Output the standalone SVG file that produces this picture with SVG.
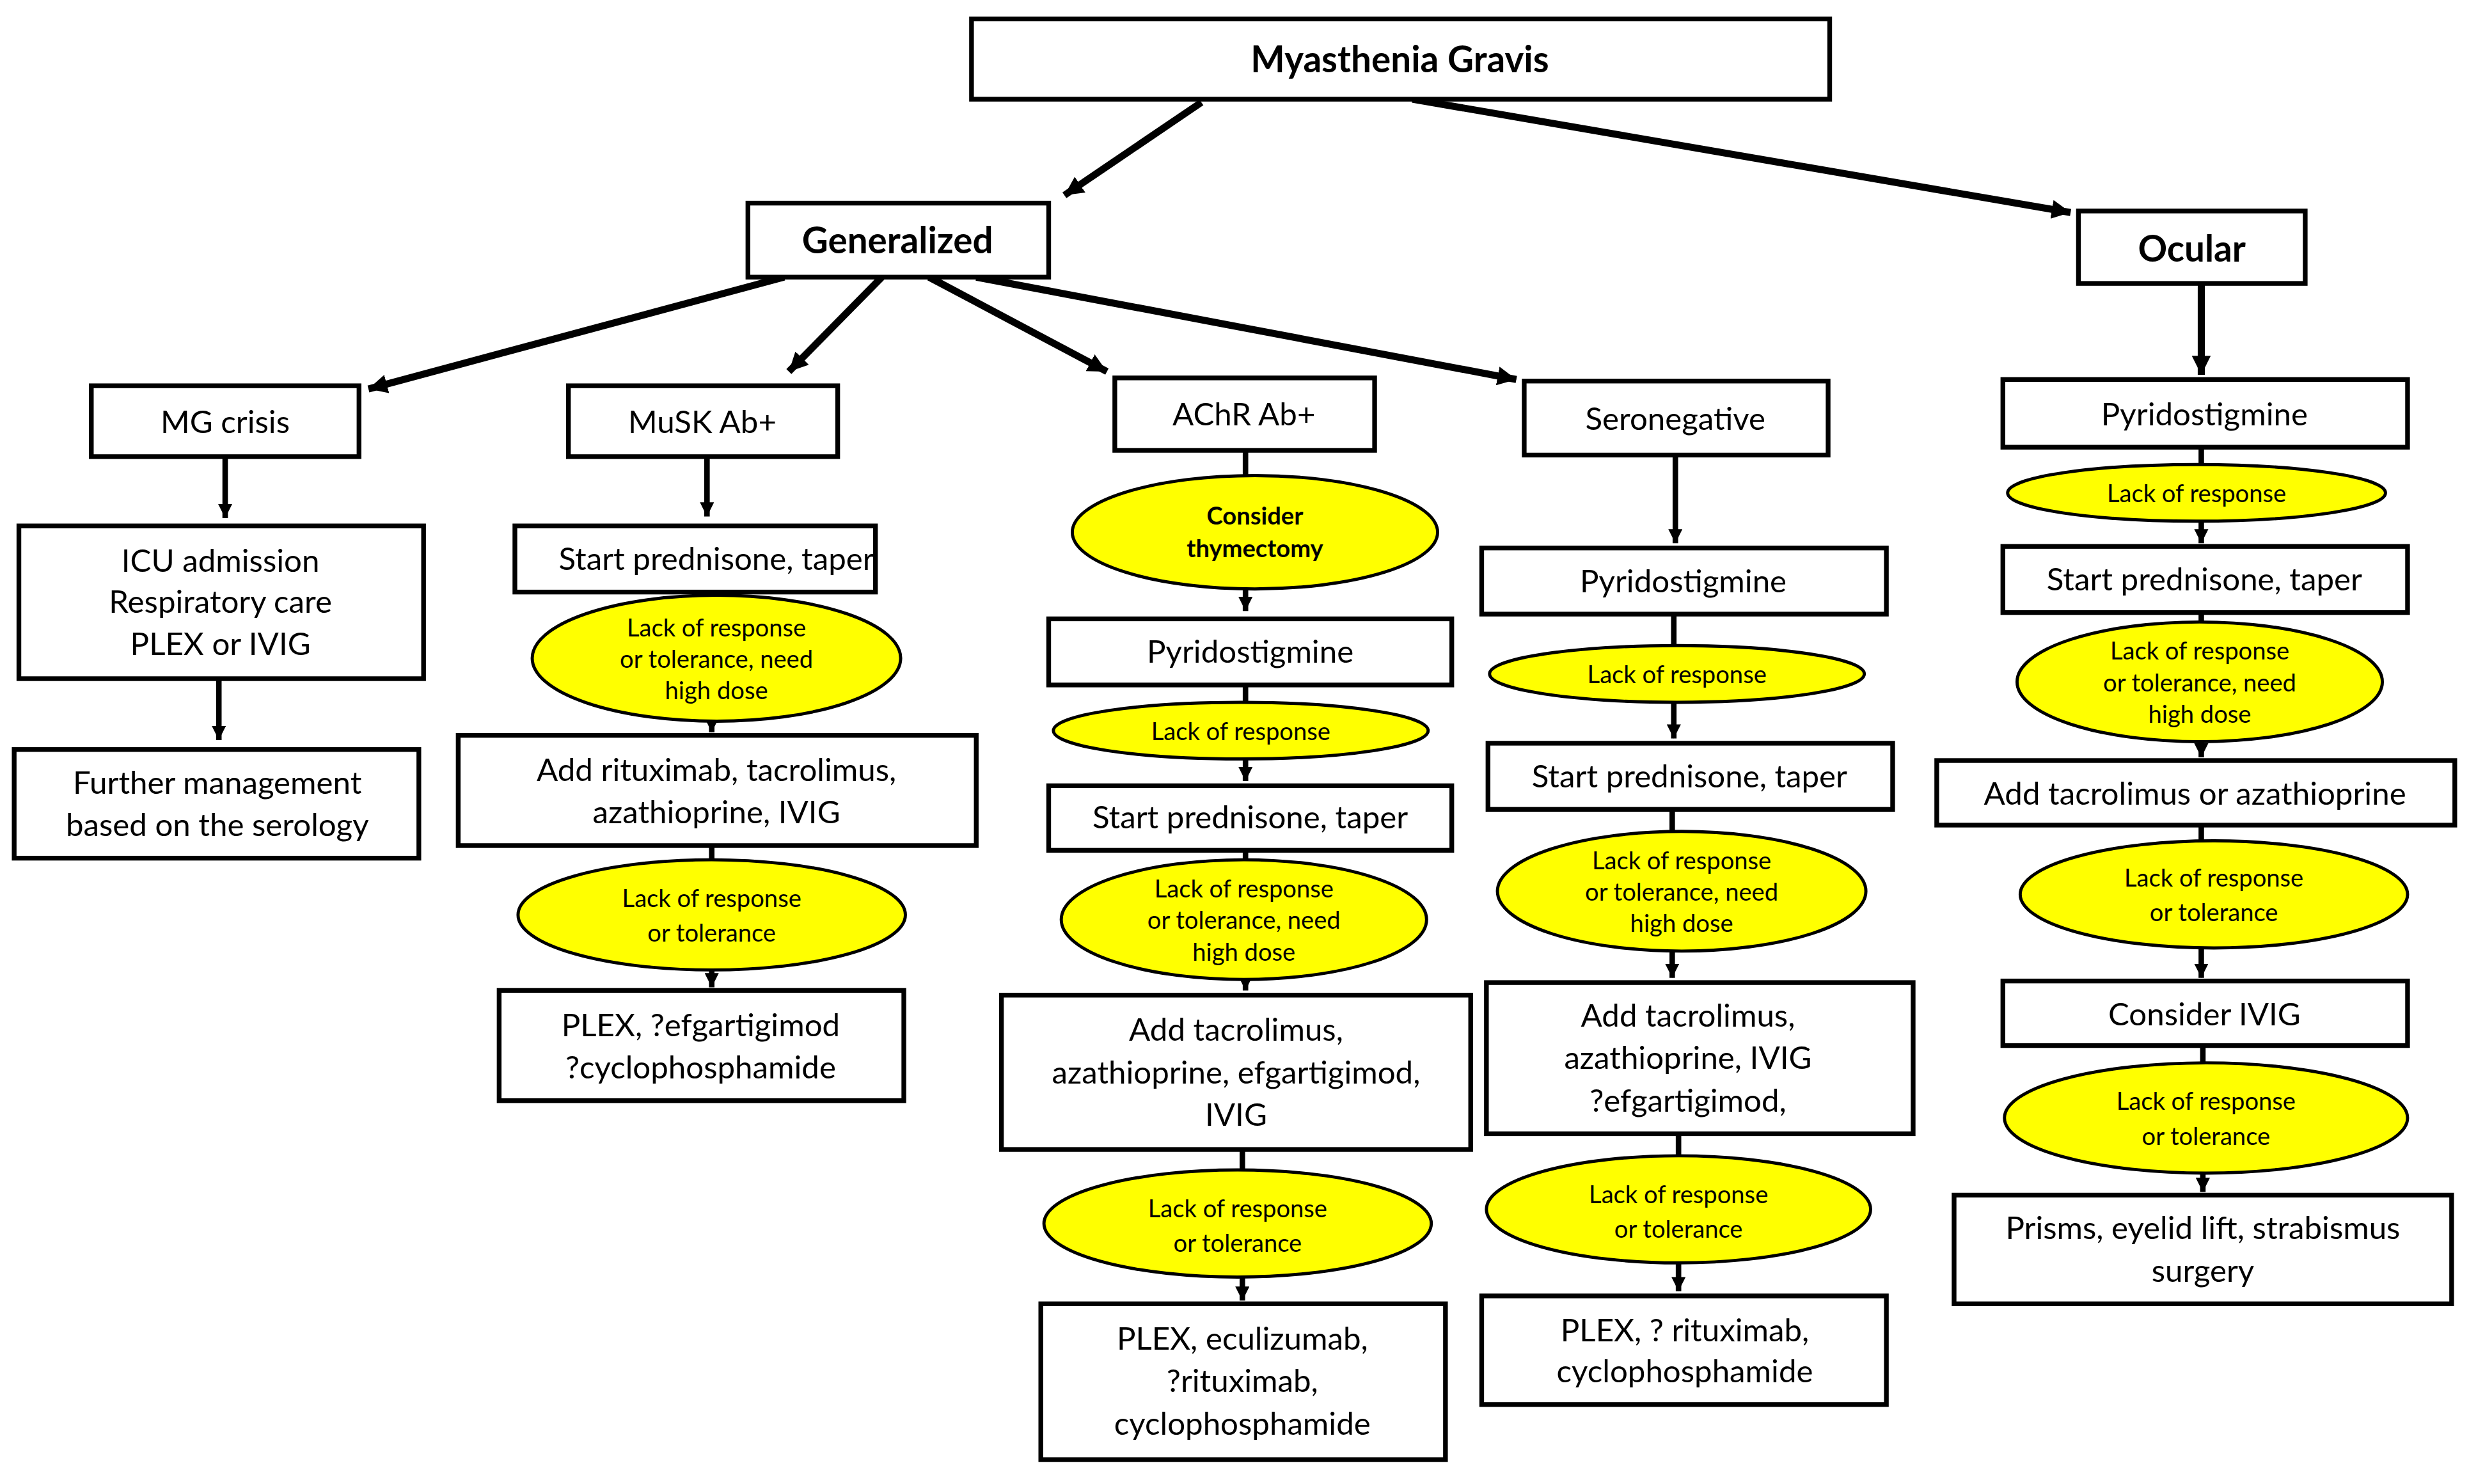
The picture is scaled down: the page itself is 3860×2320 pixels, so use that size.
<svg xmlns="http://www.w3.org/2000/svg" width="3860" height="2320" viewBox="0 0 3860 2320">
<defs>
<marker id="ah" markerUnits="userSpaceOnUse" markerWidth="12" markerHeight="12" refX="10" refY="5" orient="auto" viewBox="0 0 10 10"><path d="M0,0 L10,5 L0,10 Z" fill="#000"/></marker>
<marker id="ahs" markerUnits="userSpaceOnUse" markerWidth="9" markerHeight="9" refX="10" refY="5" orient="auto" viewBox="0 0 10 10"><path d="M0,0 L10,5 L0,10 Z" fill="#000"/></marker>
</defs>
<style>
.b{fill:#fff;stroke:#000;stroke-width:3}
.e{fill:#ffff00;stroke:#000;stroke-width:2}
text{font-family:Lato,"Liberation Sans",sans-serif;fill:#000;text-anchor:middle}
.t{font-size:20px}
.h{font-size:23px;font-weight:bold}
.s{font-size:15.5px}
.thick{stroke:#000;stroke-width:4.5;fill:none;marker-end:url(#ah)}
.thin{stroke:#000;stroke-width:3.5;fill:none;marker-end:url(#ahs)}
</style>
<rect width="3860" height="2320" fill="#fff"/>
<g transform="scale(2.4617)">
<g id="connectors">
<line class="thick" x1="763" y1="65" x2="676" y2="124"/>
<line class="thick" x1="897" y1="63" x2="1315" y2="135"/>
<line class="thick" x1="498" y1="176" x2="234" y2="247"/>
<line class="thick" x1="560" y1="176" x2="501" y2="236"/>
<line class="thick" x1="590" y1="176" x2="703" y2="236"/>
<line class="thick" x1="620" y1="176" x2="963" y2="241"/>
<line class="thick" x1="1398" y1="181" x2="1398" y2="238"/>
<line class="thin" x1="143" y1="291" x2="143" y2="329"/>
<line class="thin" x1="139" y1="432" x2="139" y2="470"/>
<line class="thin" x1="449" y1="291" x2="449" y2="328"/>
<line class="thin" x1="452" y1="376" x2="452" y2="465"/>
<line class="thin" x1="452" y1="537" x2="452" y2="627"/>
<line class="thin" x1="791" y1="286" x2="791" y2="388"/>
<line class="thin" x1="791" y1="435" x2="791" y2="496"/>
<line class="thin" x1="791" y1="540" x2="791" y2="629"/>
<line class="thin" x1="789" y1="730" x2="789" y2="826"/>
<line class="thin" x1="1064" y1="289" x2="1064" y2="345"/>
<line class="thin" x1="1063" y1="390" x2="1063" y2="469"/>
<line class="thin" x1="1062" y1="514" x2="1062" y2="621"/>
<line class="thin" x1="1066" y1="720" x2="1066" y2="820"/>
<line class="thin" x1="1398" y1="284" x2="1398" y2="345"/>
<line class="thin" x1="1398" y1="389" x2="1398" y2="481"/>
<line class="thin" x1="1398" y1="524" x2="1398" y2="621"/>
<line class="thin" x1="1399" y1="664" x2="1399" y2="757"/>
</g>
<g id="mg"><rect class="b" x="617" y="12" width="545" height="51" stroke-width="3.5"/><text class="h" x="889" y="46" font-size="24">Myasthenia Gravis</text></g>
<g id="generalized"><rect class="b" x="475" y="129" width="191" height="47"/><text class="h" x="570" y="161">Generalized</text></g>
<g id="ocular"><rect class="b" x="1320" y="134" width="144" height="46"/><text class="h" x="1392" y="166">Ocular</text></g>
<g id="mgcrisis"><rect class="b" x="58" y="245" width="170" height="45"/><text class="t" x="143" y="275">MG crisis</text></g>
<g id="musk"><rect class="b" x="361" y="245" width="171" height="45"/><text class="t" x="446" y="275">MuSK Ab+</text></g>
<g id="achr"><rect class="b" x="708" y="240" width="165" height="46"/><text class="t" x="790" y="270">AChR Ab+</text></g>
<g id="seroneg"><rect class="b" x="968" y="242" width="193" height="47"/><text class="t" x="1064" y="273">Seronegative</text></g>
<g id="icu"><rect class="b" x="12" y="334" width="257" height="97"/><text class="t" x="140" y="363">ICU admission</text><text class="t" x="140" y="389">Respiratory care</text><text class="t" x="140" y="416">PLEX or IVIG</text></g>
<g id="further"><rect class="b" x="9" y="476" width="257" height="69"/><text class="t" x="138" y="504">Further management</text><text class="t" x="138" y="531">based on the serology</text></g>
<g id="musk1"><rect class="b" x="327" y="334" width="229" height="42"/><text class="t" x="455" y="362">Start prednisone, taper</text></g>
<g id="musk2"><ellipse class="e" cx="455" cy="418" rx="117" ry="40"/><text class="s" x="455" y="404">Lack of  response</text><text class="s" x="455" y="424">or tolerance, need</text><text class="s" x="455" y="444">high dose</text></g>
<g id="musk3"><rect class="b" x="291" y="467" width="329" height="70"/><text class="t" x="455" y="496">Add rituximab, tacrolimus,</text><text class="t" x="455" y="523">azathioprine, IVIG</text></g>
<g id="musk4"><ellipse class="e" cx="452" cy="581" rx="123" ry="35"/><text class="s" x="452" y="576">Lack of  response</text><text class="s" x="452" y="598">or tolerance</text></g>
<g id="musk5"><rect class="b" x="317" y="629" width="257" height="70"/><text class="t" x="445" y="658">PLEX, ?efgartigimod</text><text class="t" x="445" y="685">?cyclophosphamide</text></g>
<g id="achr1"><ellipse class="e" cx="797" cy="338" rx="116" ry="36"/><text class="s" x="797" y="333" font-weight="bold" font-size="14.5">Consider</text><text class="s" x="797" y="354" font-weight="bold" font-size="14.5">thymectomy</text></g>
<g id="achr2"><rect class="b" x="666" y="393" width="256" height="42"/><text class="t" x="794" y="421">Pyridostigmine</text></g>
<g id="achr3"><ellipse class="e" cx="788" cy="464" rx="119" ry="18"/><text class="s" x="788" y="470">Lack of  response</text></g>
<g id="achr4"><rect class="b" x="666" y="499" width="256" height="41"/><text class="t" x="794" y="526">Start prednisone, taper</text></g>
<g id="achr5"><ellipse class="e" cx="790" cy="584" rx="116" ry="38"/><text class="s" x="790" y="570">Lack of  response</text><text class="s" x="790" y="590">or tolerance, need</text><text class="s" x="790" y="610">high dose</text></g>
<g id="achr6"><rect class="b" x="636" y="632" width="298" height="98"/><text class="t" x="785" y="661">Add tacrolimus,</text><text class="t" x="785" y="688">azathioprine, efgartigimod,</text><text class="t" x="785" y="715">IVIG</text></g>
<g id="achr7"><ellipse class="e" cx="786" cy="777" rx="123" ry="34"/><text class="s" x="786" y="773">Lack of  response</text><text class="s" x="786" y="795">or tolerance</text></g>
<g id="achr8"><rect class="b" x="661" y="828" width="257" height="99"/><text class="t" x="789" y="857">PLEX, eculizumab,</text><text class="t" x="789" y="884">?rituximab,</text><text class="t" x="789" y="911">cyclophosphamide</text></g>
<g id="sero1"><rect class="b" x="941" y="348" width="257" height="42"/><text class="t" x="1069" y="376">Pyridostigmine</text></g>
<g id="sero2"><ellipse class="e" cx="1065" cy="428" rx="119" ry="18"/><text class="s" x="1065" y="434">Lack of  response</text></g>
<g id="sero3"><rect class="b" x="945" y="472" width="257" height="42"/><text class="t" x="1073" y="500">Start prednisone, taper</text></g>
<g id="sero4"><ellipse class="e" cx="1068" cy="566" rx="117" ry="38"/><text class="s" x="1068" y="552">Lack of  response</text><text class="s" x="1068" y="572">or tolerance, need</text><text class="s" x="1068" y="592">high dose</text></g>
<g id="sero5"><rect class="b" x="944" y="624" width="271" height="96"/><text class="t" x="1072" y="652">Add tacrolimus,</text><text class="t" x="1072" y="679">azathioprine, IVIG</text><text class="t" x="1072" y="706">?efgartigimod,</text></g>
<g id="sero6"><ellipse class="e" cx="1066" cy="768" rx="122" ry="34"/><text class="s" x="1066" y="764">Lack of  response</text><text class="s" x="1066" y="786">or tolerance</text></g>
<g id="sero7"><rect class="b" x="941" y="823" width="257" height="69"/><text class="t" x="1070" y="852">PLEX, ? rituximab,</text><text class="t" x="1070" y="878">cyclophosphamide</text></g>
<g id="ocu1"><rect class="b" x="1272" y="241" width="257" height="43"/><text class="t" x="1400" y="270">Pyridostigmine</text></g>
<g id="ocu2"><ellipse class="e" cx="1395" cy="313" rx="120" ry="18"/><text class="s" x="1395" y="319">Lack of  response</text></g>
<g id="ocu3"><rect class="b" x="1272" y="347" width="257" height="42"/><text class="t" x="1400" y="375">Start prednisone, taper</text></g>
<g id="ocu4"><ellipse class="e" cx="1397" cy="433" rx="116" ry="38"/><text class="s" x="1397" y="419">Lack of  response</text><text class="s" x="1397" y="439">or tolerance, need</text><text class="s" x="1397" y="459">high dose</text></g>
<g id="ocu5"><rect class="b" x="1230" y="483" width="329" height="41"/><text class="t" x="1394" y="511">Add tacrolimus or azathioprine</text></g>
<g id="ocu6"><ellipse class="e" cx="1406" cy="568" rx="123" ry="34"/><text class="s" x="1406" y="563">Lack of  response</text><text class="s" x="1406" y="585">or tolerance</text></g>
<g id="ocu7"><rect class="b" x="1272" y="623" width="257" height="41"/><text class="t" x="1400" y="651">Consider IVIG</text></g>
<g id="ocu8"><ellipse class="e" cx="1401" cy="710" rx="128" ry="35"/><text class="s" x="1401" y="705">Lack of  response</text><text class="s" x="1401" y="727">or tolerance</text></g>
<g id="ocu9"><rect class="b" x="1241" y="759" width="316" height="69"/><text class="t" x="1399" y="787">Prisms, eyelid lift, strabismus</text><text class="t" x="1399" y="814">surgery</text></g>
</g>
</svg>
